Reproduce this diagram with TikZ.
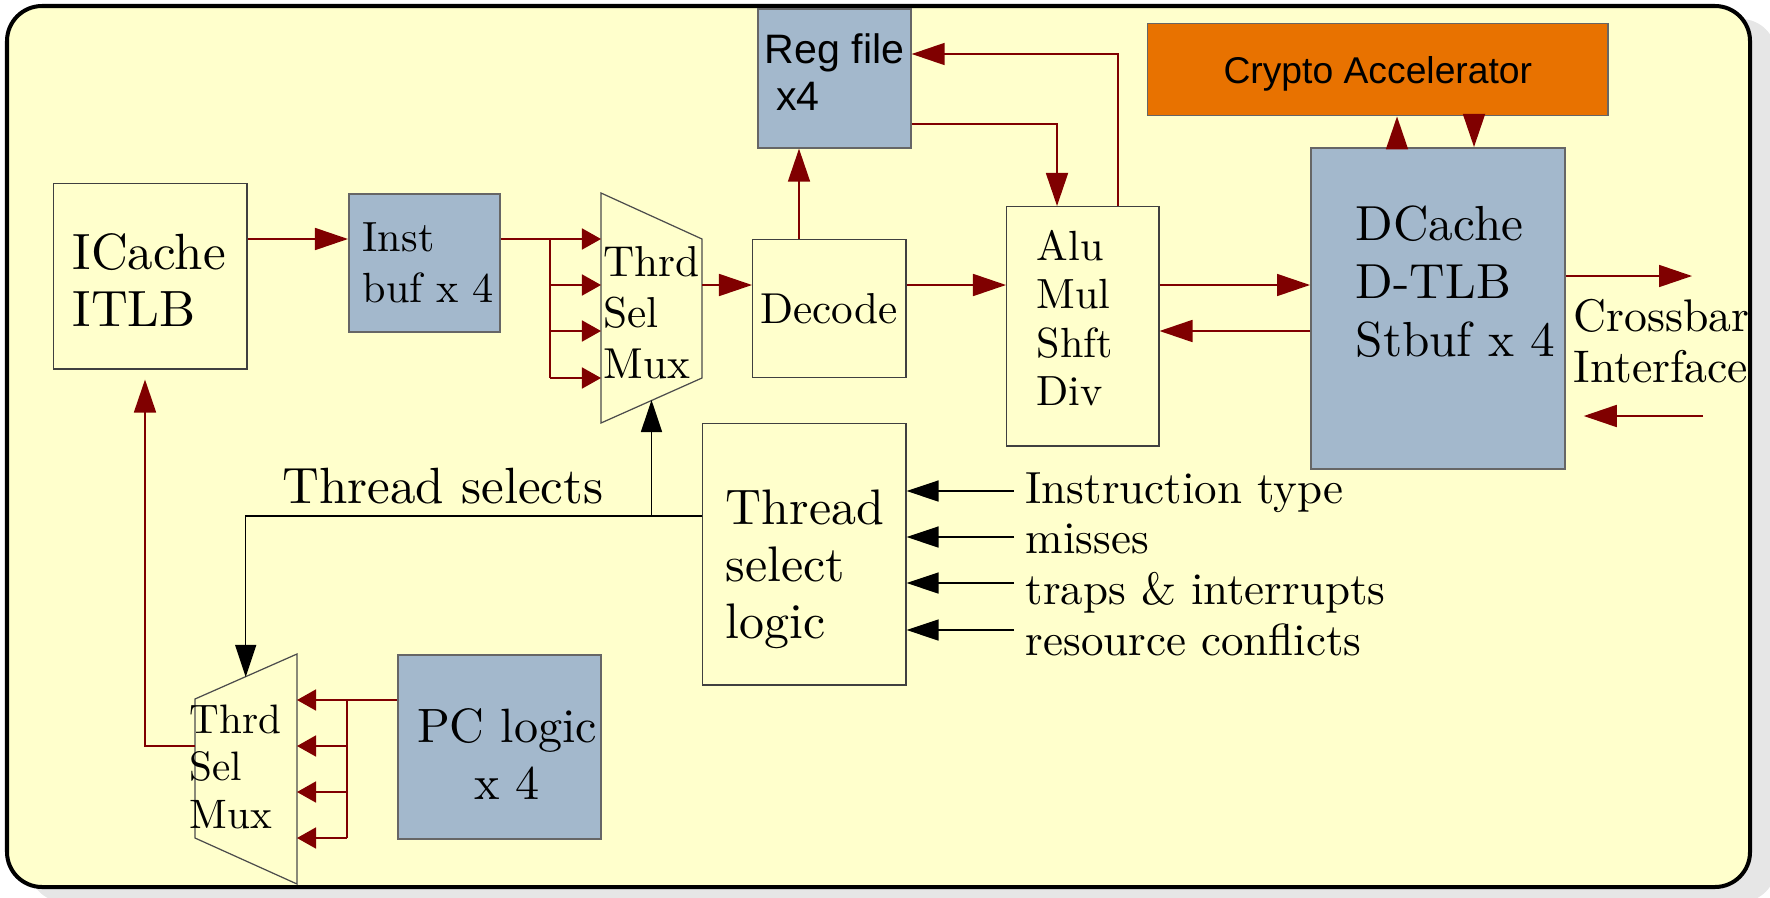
\documentclass[tikz,border=0pt]{standalone}
\usepackage{fontspec}
\setmainfont{lmroman10-regular.otf}
\newfontfamily\sansfam{Liberation Sans}
\usetikzlibrary{arrows.meta}
\definecolor{bgyellow}{HTML}{FFFFCC}
\definecolor{bluegray}{HTML}{A3B8CC}
\definecolor{accorange}{HTML}{E87200}
\definecolor{wirered}{HTML}{800000}
\definecolor{shadowgray}{HTML}{E6E6E6}

\begin{document}
\begin{tikzpicture}[x=0.01cm, y=-0.01cm]
	\tikzstyle{unit} = [ draw=black!75, line width=0.4pt, fill=bgyellow, rectangle, anchor=north west, inner sep=0pt ];
	\tikzstyle{store} = [ unit, draw=black!60, line width=0.45pt, fill=bluegray ];
	\tikzstyle{accel} = [ unit, draw=black!60, fill=accorange ];
	\tikzstyle{lbl} = [ anchor=north west, inner sep=0pt, align=left ];
	\tikzstyle{cause} = [ anchor=base west, inner sep=0pt, font={\fontsize{12.8}{15}\selectfont} ];
	\tikzstyle{mux} = [ draw=black!70, line width=0.35pt ];
	\tikzstyle{wire} = [ wirered, line width=0.48pt ];
	\tikzstyle{sig} = [ wire, -{Triangle[length=0.33cm, width=0.22cm]} ];
	\tikzstyle{sigs} = [ wire, -{Triangle[length=0.19cm, width=0.21cm]} ];
	\tikzstyle{ctl} = [ black, line width=0.4pt, -{Triangle[length=0.32cm, width=0.21cm]} ];

	\useasboundingbox (0,0) rectangle (1770,897);
	\fill[shadowgray, rounded corners=0.35cm] (29,19) rectangle (1776,902);
	\draw[fill=bgyellow, line width=1.14pt, rounded corners=0.35cm] (7,6) rectangle (1750,887);

	% blocks
	\node[unit, minimum width=1.93cm, minimum height=1.85cm] (icache) at (53,183) {};
	\node[store, minimum width=1.51cm, minimum height=1.38cm] (ibuf) at (348,193) {};
	\node[unit, minimum width=1.53cm, minimum height=1.38cm, font={\fontsize{12.3}{14.5}\selectfont}] (decode) at (752,239) {Decode};
	\node[store, minimum width=1.53cm, minimum height=1.39cm] (regf) at (757,8) {};
	\node[unit, minimum width=1.52cm, minimum height=2.39cm] (alu) at (1006,206) {};
	\node[store, minimum width=2.54cm, minimum height=3.21cm] (dcache) at (1310,147) {};
	\node[accel, minimum width=4.60cm, minimum height=0.92cm, text depth=0pt, font={\sansfam\fontsize{10.6}{12}\selectfont}] (crypto) at (1147,23) {Crypto Accelerator};
	\node[unit, minimum width=2.03cm, minimum height=2.61cm] (tsel) at (702,423) {};
	\node[store, minimum width=2.03cm, minimum height=1.84cm] (pcl) at (397,654) {};

	\draw[mux] (601,193) coordinate (tm1) -- (702,239) coordinate (tm2) -- (702,378) coordinate (tm3) -- (601,423) coordinate (tm4) -- cycle;
	\draw[mux] (195,699) coordinate (bm1) -- (297,654) coordinate (bm2) -- (297,884) coordinate (bm3) -- (195,838) coordinate (bm4) -- cycle;

	\node[lbl, font={\fontsize{14.5}{16.2}\selectfont}] (icache-t) at (72,233) {ICache\\ITLB};
	\node[lbl, font={\fontsize{12}{14.5}\selectfont}] (ibuf-t) at (362,222) {Inst\\buf x 4};
	\node[lbl, font={\sansfam\fontsize{11.7}{13.4}\selectfont}] (regf-t) at (764,33) {Reg file\\~x4};
	\node[lbl, font={\fontsize{12}{13.66}\selectfont}] (alu-t) at (1036,230) {Alu\\Mul\\Shft\\Div};
	\node[lbl, font={\fontsize{14}{16.5}\selectfont}] (dcache-t) at (1355,205) {DCache\\D-TLB\\Stbuf x 4};
	\node[lbl, font={\fontsize{14.2}{16.22}\selectfont}] (tsel-t) at (725,489) {Thread\\select\\logic};
	\node[lbl, anchor=north, align=center, font={\fontsize{13.7}{16.22}\selectfont}] (pcl-t) at (507,708) {PC logic\\x 4};
	\node[lbl, font={\fontsize{12.3}{14.5}\selectfont}] (tmux-t) at (603,246) {Thrd\\Sel\\Mux};
	\node[lbl, font={\fontsize{11.7}{13.5}\selectfont}] (bmux-t) at (189,704) {Thrd\\Sel\\Mux};
	\node[lbl, font={\fontsize{13}{14.5}\selectfont}] (xbar-t) at (1573,299) {Crossbar\\Interface};
	\node[anchor=base west, inner sep=0pt, font={\fontsize{14.5}{17}\selectfont}] (tsel-l) at (282,503) {Thread selects};

	% lanes
	\coordinate (tbus) at (550,239);
	\coordinate (tout) at (702,285);
	\coordinate (lnA) at (799,0);
	\coordinate (lnB) at (1057,124);
	\coordinate (lnC) at (1118,54);
	\coordinate (lnD) at (1397,0);
	\coordinate (lnE) at (1474,0);
	\coordinate (xo) at (1692,276);
	\coordinate (xi) at (1703,416);
	\coordinate (bout) at (195,746);
	\coordinate (lnF) at (145,0);
	\coordinate (bbus) at (347,700);
	\coordinate (selrow) at (0,516);
	\coordinate (selT) at (651.5,400);
	\coordinate (selB) at (245.7,677);

	\draw[sig] (icache.east |- tm2) -- (ibuf.west |- tm2);
	\foreach \y [count=\i] in {239,285,331,378} {
		\coordinate (tin\i) at (601,\y);
		\draw[sigs] (tbus |- tin\i) -- (tin\i);
	}
	\draw[wire] (ibuf.east |- tin1) -- (tbus |- tin1) -- (tbus |- tin4);
	\draw[sig] (tout) -- (decode.west |- tout);
	\draw[sig] (decode.east |- tout) -- (alu.west |- tout);
	\draw[sig] (alu.east |- tout) -- (dcache.west |- tout);
	\draw[sig] (dcache.west |- tin3) -- (alu.east |- tin3);
	\draw[sig] (decode.north -| lnA) -- (regf.south -| lnA);
	\draw[sig] (regf.east |- lnB) -| (alu.north -| lnB);
	\draw[sig] (alu.north -| lnC) |- (regf.east |- lnC);
	\draw[sig] (dcache.north -| lnD) -- (crypto.south -| lnD);
	\draw[sig] (crypto.south -| lnE) -- (dcache.north -| lnE);
	\draw[sig] (dcache.east |- xo) -- (xo);
	\draw[sig, shorten >=0.18cm] (xi) -- (dcache.east |- xi);
	\draw[sig, shorten >=0.1cm] (bout) -| (icache.south -| lnF);

	\foreach \y [count=\i] in {700,746,792,838} {
		\coordinate (bin\i) at (297,\y);
		\draw[sigs] (bbus |- bin\i) -- (bin\i);
	}
	\draw[wire] (pcl.west |- bin1) -- (bbus |- bin1) -- (bbus |- bin4);

	\draw[ctl] (tsel.west |- selrow) -| (selB);
	\draw[ctl] (selT |- selrow) -- (selT);

	\foreach \lab/\ay/\ty [count=\i] in {Instruction type/491/503, misses/537/553, traps \& interrupts/583/604, resource conflicts/630/655} {
		\node[cause] (cause\i) at (1025,\ty) {\lab};
		\coordinate (src\i) at (1014,\ay);
		\draw[ctl] (src\i) -- (tsel.east |- src\i);
	}
\end{tikzpicture}
\end{document}
